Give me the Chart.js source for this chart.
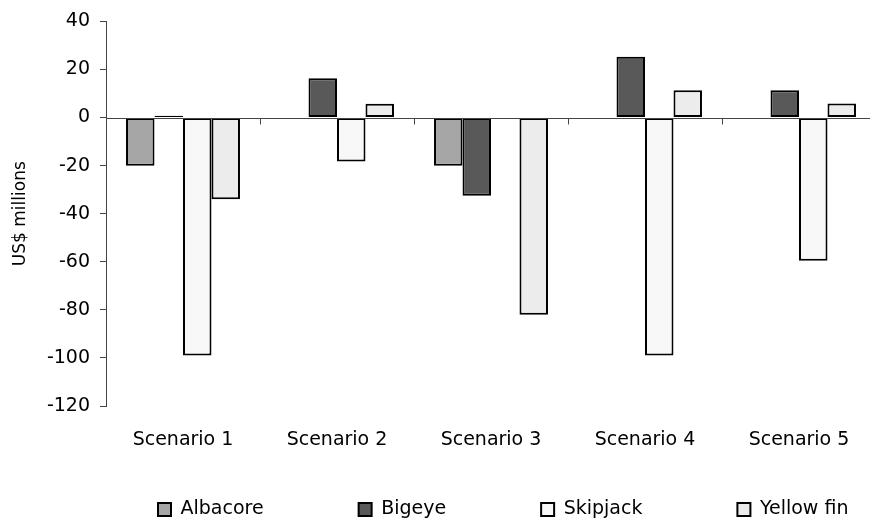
<!DOCTYPE html>
<html>
<head>
<meta charset="utf-8">
<script src="https://cdn.jsdelivr.net/npm/chart.js@4.4.1/dist/chart.umd.min.js"></script>
<style>
  html,body{margin:0;padding:0;background:#fff;overflow:hidden;}
  /* plot runs a little past the right edge, like the original */
  #wrap{position:relative;width:880px;height:521px;}
</style>
</head>
<body>
<div id="wrap"><canvas id="chart"></canvas></div>
<script>
// data
const scenarios = ["Scenario 1","Scenario 2","Scenario 3","Scenario 4","Scenario 5"];
const albacore  = [-20, null, -20, null, null];
const bigeye    = [0.7, 16.4, -32.5, 25.3, 11.4];
const skipjack  = [-99, -18.3, null, -99, -59.6];
const yellowfin = [-34, 5.7, -82, 11.4, 5.8];
const yTicks    = [40, 20, 0, -20, -40, -60, -80, -100, -120];

const FONT = "'DejaVu Sans', sans-serif";
const AXIS = '#444';
const LEG_PAD = 95;

// zero line + small ticks between categories (excel style)
const zeroAxis = {
  id: 'zeroAxis',
  afterDatasetsDraw(chart){
    const {ctx, chartArea, scales:{x,y}} = chart;
    const y0 = Math.round(y.getPixelForValue(0)) + 0.5;
    const n = scenarios.length;
    const step = x.getPixelForTick(1) - x.getPixelForTick(0);
    ctx.save();
    ctx.strokeStyle = AXIS; ctx.lineWidth = 1;
    ctx.beginPath();
    ctx.moveTo(chartArea.left, y0); ctx.lineTo(chartArea.right, y0);
    for(let i=0;i<n;i++){
      const px = Math.round(x.getPixelForTick(i) + step/2) + 0.5;
      ctx.moveTo(px, y0); ctx.lineTo(px, y0+6);
    }
    ctx.stroke();
    ctx.restore();
  }
};

// legend: wide spacing between items, kept in one row at the bottom
const legendPlace = {
  id: 'legendPlace',
  beforeInit(chart){
    const lg = chart.legend;
    const fit = lg.fit;
    lg.fit = function(){
      this.maxWidth = 5000;
      fit.call(this);
      this.height = 55;
    };
  },
  afterLayout(chart){
    const lg = chart.legend;
    lg.left = 158 - LEG_PAD;
    lg.right = 5000;
    lg.top = 500 - LEG_PAD;
  }
};

const mk = (label, data, color) => ({
  label, data, backgroundColor: color, borderColor: '#000', borderWidth: 2, borderSkipped: false
});

new Chart(document.getElementById('chart'), {
  type: 'bar',
  data: {
    labels: scenarios,
    datasets: [
      mk('Albacore', albacore, '#a6a6a6'),
      mk('Bigeye', bigeye, '#595959'),
      mk('Skipjack', skipjack, '#f8f8f8'),
      mk('Yellow fin', yellowfin, '#ececec')
    ]
  },
  options: {
    responsive: true,
    maintainAspectRatio: false,
    animation: false,
    categoryPercentage: 0.74,
    barPercentage: 1,
    layout: {padding: {top: 21, right: 4, left: 6, bottom: 0}},
    plugins: {
      tooltip: {enabled: false},
      legend: {
        position: 'bottom',
        align: 'start',
        labels: {
          color: '#000', boxWidth: 13, boxHeight: 13, padding: LEG_PAD,
          font: {family: FONT, size: 19}
        }
      }
    },
    scales: {
      x: {
        afterFit: s => { s.height = 60; },
        grid: {display: false, drawTicks: false},
        border: {display: false},
        ticks: {color: '#000', padding: 23, font: {family: FONT, size: 19}}
      },
      y: {
        min: -120, max: 40,
        afterFit: s => { s.width = 100; },
        afterBuildTicks: s => { s.ticks = yTicks.map(v => ({value: v})); },
        grid: {display: true, color: 'transparent', tickColor: AXIS, tickLength: 6, drawOnChartArea: false},
        border: {display: true, color: AXIS, width: 1},
        ticks: {color: '#000', padding: 10, font: {family: FONT, size: 19}},
        title: {display: true, text: 'US$ millions', color: '#000', padding: {top: 4, bottom: 4}, font: {family: FONT, size: 17}}
      }
    }
  },
  plugins: [zeroAxis, legendPlace]
});
</script>
</body>
</html>
